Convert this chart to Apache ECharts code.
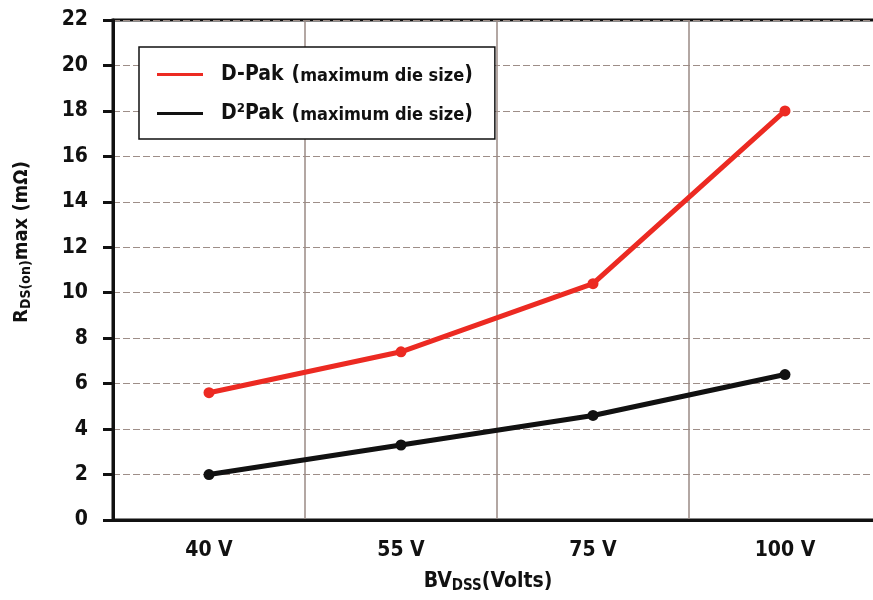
<!DOCTYPE html>
<html>
<head>
<meta charset="utf-8">
<script src="https://cdn.jsdelivr.net/npm/echarts@6/dist/echarts.min.js"></script>
<style>
  html, body { margin: 0; padding: 0; background: #fff; }
  #chart { width: 873px; height: 600px; }
</style>
</head>
<body>
<div id="chart"></div>
<script>
// Breakdown-voltage classes on the x axis
const categories = ['40 V', '55 V', '75 V', '100 V'];
// RDS(on) max in mΩ for each package
const dPak = [5.6, 7.4, 10.4, 18.0];
const d2Pak = [2.0, 3.3, 4.6, 6.4];
const seriesNames = ['D-Pak', 'D²Pak'];
const legendNote = 'maximum die size';
// Y axis range and step
const yMin = 0, yMax = 22, yStep = 2;

const FONT = "'DejaVu Sans Condensed', 'Liberation Sans Narrow', sans-serif";

const chart = echarts.init(document.getElementById('chart'), null, { renderer: 'canvas' });

chart.setOption({
  backgroundColor: '#ffffff',
  animation: false,
  grid: {
    // the plot runs a little past the right edge of the canvas
    left: 113, top: 20, width: 768, height: 500,
    outerBoundsMode: 'none',
    containLabel: false,
    show: true, borderColor: '#111', borderWidth: 3, backgroundColor: 'transparent'
  },
  legend: {
    orient: 'vertical',
    left: 139, top: 47,
    padding: [17, 22, 15, 18],
    itemGap: 18,
    itemWidth: 46, itemHeight: 3,
    icon: 'rect',
    backgroundColor: '#fff',
    borderColor: '#111', borderWidth: 1.5, borderRadius: 0,
    data: seriesNames,
    formatter: function (name) {
      return '{a|' + name + '}{sp|}{a|(}{b|' + legendNote + '}{a|)}';
    },
    textStyle: {
      padding: [0, 0, 0, 13],
      rich: {
        a: { fontFamily: FONT, fontWeight: 'bold', fontSize: 21, color: '#111', lineHeight: 24 },
        sp: { width: 8 },
        b: { fontFamily: FONT, fontWeight: 'bold', fontSize: 18, color: '#111', lineHeight: 24, padding: [3, 0, 0, 0] }
      }
    }
  },
  xAxis: {
    type: 'category',
    data: categories,
    boundaryGap: true,
    axisLine: { show: true, lineStyle: { color: '#111', width: 3 } },
    axisTick: { show: false },
    axisLabel: { margin: 20, fontFamily: FONT, fontWeight: 'bold', fontSize: 21, color: '#111' },
    splitLine: { show: true, interval: 0, lineStyle: { color: '#9a8a85', width: 1.5, type: 'solid' } },
    name: 'BV{s|DSS}(Volts)',
    nameLocation: 'middle',
    nameGap: 50,
    nameTextStyle: {
      fontFamily: FONT, fontWeight: 'bold', fontSize: 21, color: '#111',
      padding: [0, 18, 0, 0],
      rich: {
        s: { fontFamily: FONT, fontWeight: 'bold', fontSize: 15, color: '#111', padding: [9, 0, 0, 0] }
      }
    }
  },
  yAxis: {
    type: 'value',
    min: yMin, max: yMax, interval: yStep,
    axisLine: { show: true, lineStyle: { color: '#111', width: 3 } },
    axisTick: { show: true, inside: false, length: 10, lineStyle: { color: '#111', width: 3 } },
    axisLabel: { margin: 25, fontFamily: FONT, fontWeight: 'bold', fontSize: 21, color: '#111' },
    splitLine: { show: true, lineStyle: { color: '#9e8e88', width: 1, type: [7, 3] } },
    name: 'R{s|DS(on)}max (mΩ)',
    nameLocation: 'middle',
    nameRotate: 90,
    nameGap: 80,
    nameTextStyle: {
      fontFamily: FONT, fontWeight: 'bold', fontSize: 20, color: '#111',
      padding: [0, 0, 0, 56],
      rich: {
        s: { fontFamily: FONT, fontWeight: 'bold', fontSize: 14, color: '#111', padding: [9, 0, 0, 0] }
      }
    }
  },
  series: [
    {
      name: seriesNames[0],
      type: 'line',
      data: dPak,
      color: '#ec2a22',
      lineStyle: { width: 5, color: '#ec2a22' },
      symbol: 'circle', symbolSize: 11,
      itemStyle: { color: '#ec2a22' },
      z: 3
    },
    {
      name: seriesNames[1],
      type: 'line',
      data: d2Pak,
      color: '#111111',
      lineStyle: { width: 5, color: '#111111' },
      symbol: 'circle', symbolSize: 11,
      itemStyle: { color: '#111111' },
      z: 3
    }
  ]
});
</script>
</body>
</html>
